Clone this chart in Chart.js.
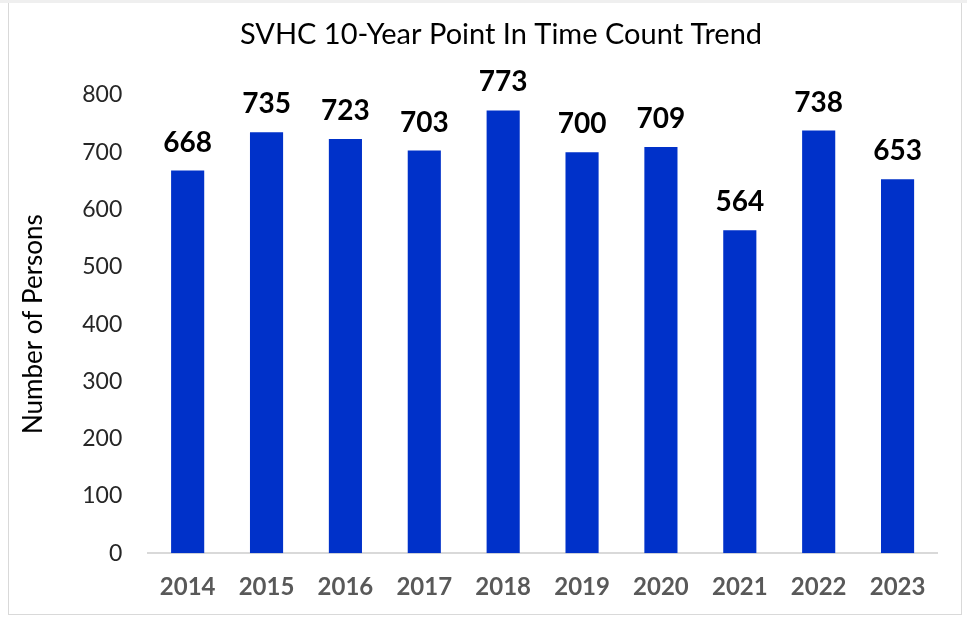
<!DOCTYPE html>
<html>
<head>
<meta charset="utf-8">
<script src="https://cdn.jsdelivr.net/npm/chart.js@4.4.1/dist/chart.umd.min.js"></script>
<style>
  html, body { margin: 0; padding: 0; background: #ffffff; }
  body { width: 967px; height: 617px; position: relative; overflow: hidden; }
  #topstrip { position: absolute; left: 0; top: 0; width: 967px; height: 3px; background: #efefef; }
  #frame { position: absolute; left: 8px; top: 3px; width: 952px; height: 611px; border: 1px solid #d9d9d9; border-top: none; background: #fff; }
  #wrap { position: absolute; left: 0; top: 0; width: 952px; height: 611px; }
</style>
</head>
<body>
<div id="topstrip"></div>
<div id="frame"><div id="wrap"><canvas id="c"></canvas></div></div>
<script>
const chartTitle = "SVHC 10-Year Point In Time Count Trend";
const yAxisTitle = "Number of Persons";
const years = ["2014", "2015", "2016", "2017", "2018", "2019", "2020", "2021", "2022", "2023"];
const counts = [668, 735, 723, 703, 773, 700, 709, 564, 738, 653];
const yTicks = [0, 100, 200, 300, 400, 500, 600, 700, 800];

const FONT = "Lato, 'Open Sans', sans-serif";

const valueLabels = {
  id: 'valueLabels',
  afterDatasetsDraw(chart) {
    const ctx = chart.ctx;
    const meta = chart.getDatasetMeta(0);
    ctx.save();
    ctx.font = "bold 28px " + FONT;
    ctx.fillStyle = "#000000";
    ctx.textAlign = "center";
    ctx.textBaseline = "alphabetic";
    meta.data.forEach((bar, i) => {
      ctx.fillText(String(counts[i]), bar.x, bar.y - 19);
    });
    // chart title
    ctx.font = "29px " + FONT;
    ctx.fillText(chartTitle, chart.width / 2 + 16, 41);
    ctx.restore();
  }
};

new Chart(document.getElementById('c'), {
  type: 'bar',
  data: {
    labels: years,
    datasets: [{
      data: counts,
      backgroundColor: '#0031C9',
      borderWidth: 0,
      barPercentage: 0.42,
      categoryPercentage: 1.0
    }]
  },
  options: {
    responsive: true,
    maintainAspectRatio: false,
    animation: false,
    layout: { padding: { left: 5, right: 24, top: 92, bottom: 0 } },
    plugins: {
      legend: { display: false },
      tooltip: { enabled: false },
      title: { display: false }
    },
    scales: {
      x: {
        grid: { display: false },
        border: { display: true, color: '#d9d9d9', width: 2 },
        ticks: { color: '#595959', font: { family: FONT, size: 24, weight: 'bold' }, padding: 12 }
      },
      y: {
        min: 0,
        max: 800,
        afterBuildTicks(axis) { axis.ticks = yTicks.map(v => ({ value: v })); },
        grid: { display: false },
        border: { display: false },
        ticks: { color: '#262626', font: { family: FONT, size: 23 }, padding: 18 },
        title: {
          display: true,
          text: yAxisTitle,
          color: '#000000',
          font: { family: FONT, size: 26 },
          padding: { bottom: 15 }
        }
      }
    }
  },
  plugins: [valueLabels]
});
</script>
</body>
</html>
